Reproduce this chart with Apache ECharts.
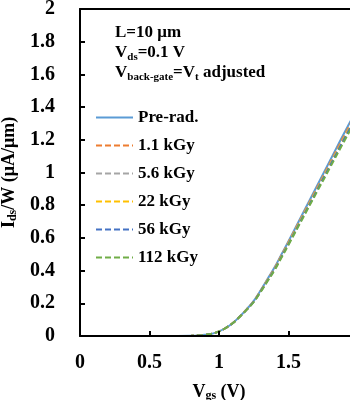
<!DOCTYPE html>
<html>
<head>
<meta charset="utf-8">
<script src="https://cdn.jsdelivr.net/npm/echarts@6/dist/echarts.min.js"></script>
<style>
  html, body { margin: 0; padding: 0; background: #fff; overflow: hidden; }
  #chart { width: 358px; height: 400px; }
</style>
</head>
<body>
<div id="chart"></div>
<script>
// Gate voltage sweep (V)
const vgs = [0, 0.5, 0.7, 0.8, 0.85, 0.9, 0.95, 1.0, 1.05, 1.1, 1.15, 1.2, 1.25, 1.3, 1.35, 1.4, 1.45, 1.5, 1.6, 1.7, 1.8, 1.9, 2.0];

// Drain current per width (µA/µm) for each dose
const preRad  = [0, 0, 0, 0.001, 0.003, 0.007, 0.014, 0.028, 0.05, 0.08, 0.12, 0.165, 0.215, 0.28, 0.35, 0.42, 0.5, 0.58, 0.745, 0.91, 1.075, 1.24, 1.40];
const dose1_1 = [0, 0, 0, 0.001, 0.003, 0.007, 0.014, 0.028, 0.05, 0.08, 0.12, 0.164, 0.213, 0.277, 0.346, 0.415, 0.494, 0.573, 0.736, 0.898, 1.061, 1.224, 1.385];
const dose5_6 = [0, 0, 0, 0.001, 0.003, 0.007, 0.014, 0.028, 0.05, 0.08, 0.119, 0.163, 0.212, 0.275, 0.344, 0.412, 0.49, 0.569, 0.731, 0.892, 1.054, 1.215, 1.375];
const dose22  = [0, 0, 0, 0.001, 0.003, 0.007, 0.014, 0.028, 0.05, 0.08, 0.119, 0.163, 0.211, 0.274, 0.342, 0.41, 0.488, 0.567, 0.728, 0.888, 1.049, 1.209, 1.368];
const dose56  = [0, 0, 0, 0.001, 0.003, 0.007, 0.014, 0.028, 0.05, 0.08, 0.119, 0.162, 0.21, 0.273, 0.34, 0.408, 0.485, 0.563, 0.723, 0.883, 1.043, 1.203, 1.36];
const dose112 = [0, 0, 0, 0.001, 0.003, 0.007, 0.014, 0.028, 0.05, 0.079, 0.118, 0.161, 0.208, 0.27, 0.336, 0.403, 0.48, 0.557, 0.716, 0.874, 1.032, 1.19, 1.345];

const seriesNames = ['Pre-rad.', '1.1 kGy', '5.6 kGy', '22 kGy', '56 kGy', '112 kGy'];
const seriesValues = [preRad, dose1_1, dose5_6, dose22, dose56, dose112];
const seriesColors = ['#5B9BD5', '#ED7D31', '#A5A5A5', '#FFC000', '#4472C4', '#70AD47'];

const yTicks = [0, 0.2, 0.4, 0.6, 0.8, 1, 1.2, 1.4, 1.6, 1.8, 2];
const xTicks = [0, 0.5, 1, 1.5, 2];

const FONT = 'Liberation Serif';

const chart = echarts.init(document.getElementById('chart'), null, { renderer: 'canvas' });

const series = seriesNames.map((name, i) => ({
  name: name,
  type: 'line',
  xAxisIndex: 0,
  yAxisIndex: 0,
  smooth: true,
  showSymbol: false,
  symbol: 'none',
  data: vgs.map((v, j) => [v, seriesValues[i][j]]),
  lineStyle: {
    color: seriesColors[i],
    width: 2,
    type: i === 0 ? 'solid' : [6, 3]
  },
  itemStyle: { color: seriesColors[i] }
}));

const xRange = { min: xTicks[0], max: xTicks[xTicks.length - 1], interval: 0.5 };
const yRange = { min: yTicks[0], max: yTicks[yTicks.length - 1], interval: 0.2 };
const frameLine = { show: true, onZero: false, lineStyle: { color: '#000', width: 2 } };
const innerTick = { show: true, inside: true, length: 5, lineStyle: { color: '#000', width: 2 } };
const subRich = { sub: { fontFamily: FONT, fontWeight: 'bold', fontSize: 12, verticalAlign: 'bottom', padding: [8, 0, 0, 0] } };

chart.setOption({
  animation: false,
  grid: {
    left: 80, right: 0, top: 9, bottom: 64,
    outerBoundsMode: 'none',
    show: false
  },
  xAxis: [{
    type: 'value', ...xRange,
    position: 'bottom',
    name: 'V{sub|gs} (V)',
    nameLocation: 'middle',
    nameGap: 46,
    nameTextStyle: { fontFamily: FONT, fontWeight: 'bold', fontSize: 18, color: '#000', rich: subRich },
    axisLine: { show: false },
    axisTick: { show: false },
    axisLabel: { fontFamily: FONT, fontWeight: 'bold', fontSize: 20, color: '#000', margin: 17 },
    splitLine: { show: false }
  }, {
    // bottom frame edge with inward ticks, on its own layer
    type: 'value', ...xRange, position: 'bottom', zlevel: 1,
    axisLine: frameLine, axisTick: innerTick,
    axisLabel: { show: false }, splitLine: { show: false }
  }, {
    // top frame edge
    type: 'value', ...xRange, position: 'top', zlevel: 1,
    axisLine: frameLine, axisTick: { show: false },
    axisLabel: { show: false }, splitLine: { show: false }
  }],
  yAxis: [{
    type: 'value', ...yRange,
    position: 'left',
    name: 'I{sub|ds}/W (μA/μm)',
    nameLocation: 'middle',
    nameGap: 56,
    nameTextStyle: { fontFamily: FONT, fontWeight: 'bold', fontSize: 18, color: '#000', rich: subRich },
    axisLine: { show: false },
    axisTick: { show: false },
    axisLabel: {
      fontFamily: FONT, fontWeight: 'bold', fontSize: 20, color: '#000', margin: 25,
      formatter: v => String(+v.toFixed(1))
    },
    splitLine: { show: false }
  }, {
    // left frame edge with inward ticks
    type: 'value', ...yRange, position: 'left', zlevel: 1,
    axisLine: frameLine, axisTick: innerTick,
    axisLabel: { show: false }, splitLine: { show: false }
  }],
  legend: {
    orient: 'vertical',
    left: 90, top: 104,
    itemWidth: 37, itemHeight: 14,
    itemGap: 11,
    itemStyle: { opacity: 0 },
    textStyle: { fontFamily: FONT, fontWeight: 'bold', fontSize: 17, color: '#000' },
    data: seriesNames
  },
  graphic: [{
    type: 'text',
    left: 115, top: 23,
    style: {
      text: 'L=10 μm\nV{sub|ds}=0.1 V\nV{sub|back-gate}=V{sub|t} adjusted',
      fontFamily: FONT, fontWeight: 'bold', fontSize: 17, lineHeight: 20, fill: '#000',
      rich: { sub: { fontFamily: FONT, fontWeight: 'bold', fontSize: 11, verticalAlign: 'bottom', lineHeight: 20, padding: [6, 0, 0, 0] } }
    }
  }],
  series: series
});
</script>
</body>
</html>
